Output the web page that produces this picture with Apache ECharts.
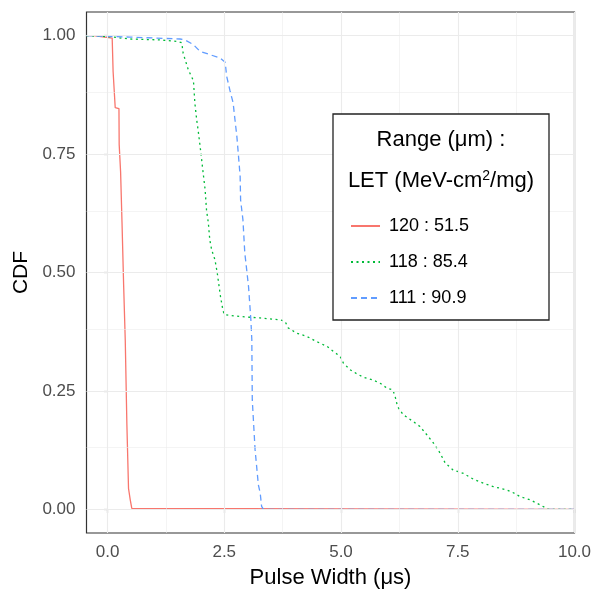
<!DOCTYPE html>
<html>
<head>
<meta charset="utf-8">
<script src="https://cdn.jsdelivr.net/npm/echarts@6/dist/echarts.min.js"></script>
<style>html,body{margin:0;padding:0;background:#fff}#c{width:592px;height:591px}</style>
</head>
<body>
<div id="c"></div>
<script>
// ---- data ----
const seriesNames = ["120 : 51.5", "118 : 85.4", "111 : 90.9"];
const xTicks = [0, 2.5, 5, 7.5, 10];
const yTicks = [0, 0.25, 0.5, 0.75, 1];
const xMinorGrid = [1.25, 3.75, 6.25, 8.75];
const yMinorGrid = [0.125, 0.375, 0.625, 0.875];

const redX = [-0.45, -0.30, -0.28, 0.10, 0.115, 0.12, 0.16, 0.165, 0.245, 0.25, 0.275, 0.28, 0.305, 0.31, 0.34, 0.345, 0.375, 0.38, 0.41, 0.415, 0.445, 0.45, 0.48, 0.487, 0.51, 0.52, 0.56, 10];
const redY = [1.0, 1.0, 0.996, 0.995, 0.993, 0.924, 0.922, 0.848, 0.846, 0.770, 0.768, 0.713, 0.711, 0.607, 0.605, 0.474, 0.472, 0.357, 0.355, 0.178, 0.176, 0.044, 0.042, 0.020, 0.018, 0.002, 0, 0];

const greenX = [-0.45, -0.2, 0.12, 0.48, 1.12, 1.48, 1.59, 1.62, 1.73, 1.84, 1.87, 1.91, 1.94, 2.00, 2.04, 2.09, 2.12, 2.16, 2.19, 2.23, 2.30, 2.35, 2.39, 2.42, 2.47, 2.50, 2.84, 3.27, 3.69, 3.80, 3.87, 4.05, 4.27, 4.48, 4.70, 4.84, 4.98, 5.05, 5.19, 5.34, 5.48, 5.69, 5.84, 5.98, 6.11, 6.16, 6.21, 6.33, 6.55, 6.69, 6.84, 6.98, 7.12, 7.23, 7.40, 7.62, 7.83, 8.05, 8.26, 8.55, 8.69, 8.83, 9.05, 9.26, 9.44, 10];
const greenY = [1.0, 0.999, 0.997, 0.993, 0.991, 0.988, 0.985, 0.963, 0.928, 0.905, 0.858, 0.822, 0.801, 0.752, 0.717, 0.675, 0.632, 0.604, 0.569, 0.548, 0.527, 0.499, 0.470, 0.449, 0.421, 0.411, 0.407, 0.404, 0.400, 0.397, 0.383, 0.372, 0.365, 0.354, 0.344, 0.333, 0.323, 0.309, 0.295, 0.286, 0.279, 0.273, 0.266, 0.256, 0.252, 0.238, 0.217, 0.200, 0.185, 0.175, 0.157, 0.140, 0.119, 0.098, 0.083, 0.076, 0.064, 0.055, 0.048, 0.041, 0.035, 0.027, 0.020, 0.0095, 0, 0];

const blueX = [-0.45, -0.16, 0.48, 1.55, 1.66, 1.84, 1.98, 2.19, 2.41, 2.52, 2.55, 2.62, 2.69, 2.73, 2.77, 2.80, 2.84, 2.85, 2.90, 2.94, 2.98, 3.02, 3.04, 3.07, 3.09, 3.10, 3.12, 3.16, 3.23, 3.27, 3.30, 3.34, 10];
const blueY = [1.0, 0.999, 0.997, 0.993, 0.991, 0.981, 0.967, 0.960, 0.953, 0.944, 0.915, 0.885, 0.858, 0.822, 0.787, 0.752, 0.703, 0.653, 0.611, 0.541, 0.506, 0.470, 0.442, 0.400, 0.358, 0.231, 0.196, 0.126, 0.052, 0.034, 0.006, 0, 0];

// ---- build ----
const zip = (xs, ys) => xs.map((x, i) => [x, ys[i]]);
const FONT = "Liberation Sans, Arial, sans-serif";
const GRID = "#EBEBEB";

const gridLines = [];
xTicks.forEach(v => gridLines.push({xAxis: v, lineStyle: {width: 1.1}}));
xMinorGrid.forEach(v => gridLines.push({xAxis: v, lineStyle: {width: 0.55}}));
yTicks.forEach(v => gridLines.push({yAxis: v, lineStyle: {width: 1.1}}));
yMinorGrid.forEach(v => gridLines.push({yAxis: v, lineStyle: {width: 0.55}}));

const chart = echarts.init(document.getElementById('c'), null, {renderer: 'canvas'});
chart.setOption({
  animation: false,
  backgroundColor: '#fff',
  textStyle: {fontFamily: FONT},
  grid: {left: 86.5, right: 17.5, top: 12, bottom: 58, show: true, borderColor: '#333333', borderWidth: 1.2, backgroundColor: '#fff',
    containLabel: false, outerBoundsMode: 'none'},
  xAxis: {
    type: 'value', min: -0.45, max: 10,
    name: 'Pulse Width (μs)', nameLocation: 'middle', nameGap: 34,
    nameTextStyle: {fontSize: 22, color: '#000', fontFamily: FONT},
    axisLine: {show: false},
    axisTick: {show: true, length: 4, customValues: xTicks, lineStyle: {color: '#333333', width: 1.1}},
    axisLabel: {customValues: xTicks, fontSize: 17, color: '#4D4D4D', margin: 11, fontFamily: FONT,
      formatter: v => v.toFixed(1)},
    splitLine: {show: false}
  },
  yAxis: {
    type: 'value', min: -0.05, max: 1.05,
    name: 'CDF', nameLocation: 'middle', nameGap: 48,
    nameTextStyle: {fontSize: 21, color: '#000', fontFamily: FONT},
    axisLine: {show: false},
    axisTick: {show: true, length: 4, customValues: yTicks, lineStyle: {color: '#333333', width: 1.1}},
    axisLabel: {customValues: yTicks, fontSize: 17, color: '#4D4D4D', margin: 11, fontFamily: FONT,
      formatter: v => v.toFixed(2)},
    splitLine: {show: false}
  },
  legend: {
    orient: 'vertical', left: 345, top: 212, z: 60,
    data: seriesNames,
    itemWidth: 29, itemHeight: 14, itemGap: 18,
    itemStyle: {color: 'rgba(0,0,0,0)', borderWidth: 0, opacity: 0},
    textStyle: {fontSize: 18, color: '#000', fontFamily: FONT, padding: [0, 0, 0, 4]},
    selectedMode: false
  },
  graphic: [
    {type: 'rect', shape: {x: 333, y: 114, width: 216, height: 206}, style: {fill: '#fff', stroke: '#222', lineWidth: 1.3}, z: 10},
    {type: 'text', x: 441, y: 140, style: {text: 'Range (μm) :', fontSize: 22, fontFamily: FONT, fill: '#000', align: 'center', verticalAlign: 'middle'}, z: 11},
    {type: 'text', x: 441, y: 181, style: {text: 'LET (MeV-cm{s|2}/mg)', fontSize: 22, fontFamily: FONT, fill: '#000', align: 'center', verticalAlign: 'middle',
      rich: {s: {fontSize: 14, fontFamily: FONT, fill: '#000', verticalAlign: 'top', padding: [0, 0, 9, 0]}}}, z: 11}
  ],
  series: [
    {type: 'line', name: '_grid', data: [], silent: true, z: 1,
     markLine: {silent: true, symbol: 'none', label: {show: false}, lineStyle: {color: GRID, type: 'solid'}, data: gridLines, animation: false}},
    {type: 'line', name: seriesNames[0], data: zip(redX, redY), symbol: 'none', z: 3,
     lineStyle: {color: '#F8766D', width: 1.3, type: 'solid'}, itemStyle: {color: '#F8766D'}},
    {type: 'line', name: seriesNames[1], data: zip(greenX, greenY), symbol: 'none', z: 3,
     lineStyle: {color: '#00BA38', width: 1.3, type: [2, 3.5]}, itemStyle: {color: '#00BA38'}},
    {type: 'line', name: seriesNames[2], data: zip(blueX, blueY), symbol: 'none', z: 3,
     lineStyle: {color: '#619CFF', width: 1.3, type: [6, 4]}, itemStyle: {color: '#619CFF'}}
  ]
});
</script>
</body>
</html>
